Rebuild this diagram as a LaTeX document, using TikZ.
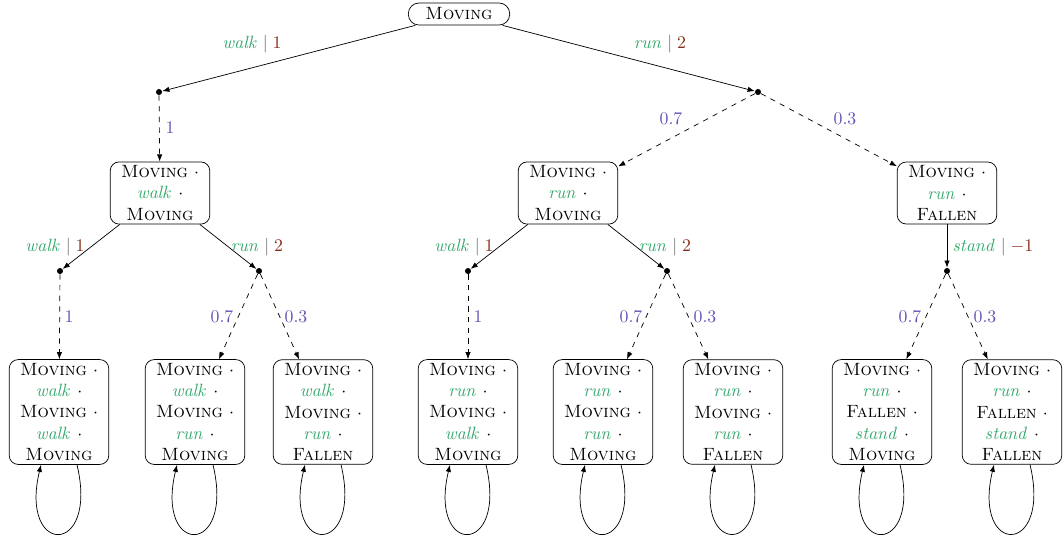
\documentclass[tikz,border=0pt]{standalone}
\usetikzlibrary{arrows.meta}
\definecolor{actc}{RGB}{52,168,108}
\definecolor{rewc}{RGB}{135,45,25}
\definecolor{prc}{RGB}{95,85,180}
\newcommand{\st}[1]{\textsc{#1}}
\newcommand{\ac}[1]{\textcolor{actc}{$\mathit{#1}$}}
\newcommand{\lab}[2]{\ac{#1}\;\textcolor{black!60}{$|$}\;\textcolor{rewc}{$#2$}}
\tikzset{
  state/.style={draw, rounded corners=5pt, align=center, minimum width=56pt, inner sep=2pt, font=\normalsize},
  rootstate/.style={draw, rounded corners=6pt, minimum width=57pt, minimum height=12.4pt, inner sep=1.5pt},
  chance/.style={circle, fill, inner sep=0pt, minimum size=3.4pt},
  act/.style={-{Latex[length=4pt,width=3pt]}},
  prob/.style={dashed, -{Latex[length=4pt,width=3pt]}},
  lbl/.style={inner sep=0pt},
  plbl/.style={inner sep=0pt, text=prc},
  loopc/.style={-{Latex[length=4pt,width=3pt]}}
}
\begin{document}
\begin{tikzpicture}[x=0.5625pt, y=-0.5625pt]
\useasboundingbox (0,0) rectangle (1063,542);
% root
\node[rootstate] (r) at (459,14) {\st{Moving}};
\node[chance] (d1) at (159,92) {};
\node[chance] (d2) at (758,92) {};
\draw[act] (r) -- (d1);
\draw[act] (r) -- (d2);
\node[lbl] (l1) at (252,44) {\lab{walk}{1}};
\node[lbl] (l2) at (660,44) {\lab{run}{2}};
% level 2
\node[state] (A) at (160,193) {\st{Moving} $\cdot$\\ \ac{walk} $\cdot$\\ \st{Moving}};
\node[state] (B) at (568,193) {\st{Moving} $\cdot$\\ \ac{run} $\cdot$\\ \st{Moving}};
\node[state] (C) at (947,193) {\st{Moving} $\cdot$\\ \ac{run} $\cdot$\\ \st{Fallen}};
\draw[prob] (d1) -- (A);
\draw[prob] (d2) -- (B);
\draw[prob] (d2) -- (C);
\node[plbl] (p1) at (170,128) {$1$};
\node[plbl] (p2) at (671,119) {$0.7$};
\node[plbl] (p3) at (845,119) {$0.3$};
% level 3 chance
\node[chance] (e1) at (60,271) {};
\node[chance] (e2) at (259,271) {};
\node[chance] (e3) at (468,271) {};
\node[chance] (e4) at (667,271) {};
\node[chance] (e5) at (947,271) {};
\draw[act] (A) -- (e1);
\draw[act] (A) -- (e2);
\draw[act] (B) -- (e3);
\draw[act] (B) -- (e4);
\draw[act] (C) -- (e5);
\node[lbl] (m1) at (55,247) {\lab{walk}{1}};
\node[lbl] (m2) at (257,247) {\lab{run}{2}};
\node[lbl] (m3) at (464,247) {\lab{walk}{1}};
\node[lbl] (m4) at (665,247) {\lab{run}{2}};
\node[lbl] (m5) at (993,247) {\lab{stand}{-1}};
% level 4
\node[state] (b1) at (59,412) {\st{Moving} $\cdot$\\ \ac{walk} $\cdot$\\ \st{Moving} $\cdot$\\ \ac{walk} $\cdot$\\ \st{Moving}};
\node[state] (b2) at (195,412) {\st{Moving} $\cdot$\\ \ac{walk} $\cdot$\\ \st{Moving} $\cdot$\\ \ac{run} $\cdot$\\ \st{Moving}};
\node[state] (b3) at (323,412) {\st{Moving} $\cdot$\\ \ac{walk} $\cdot$\\ \st{Moving} $\cdot$\\ \ac{run} $\cdot$\\ \st{Fallen}};
\node[state] (b4) at (468,412) {\st{Moving} $\cdot$\\ \ac{run} $\cdot$\\ \st{Moving} $\cdot$\\ \ac{walk} $\cdot$\\ \st{Moving}};
\node[state] (b5) at (603,412) {\st{Moving} $\cdot$\\ \ac{run} $\cdot$\\ \st{Moving} $\cdot$\\ \ac{run} $\cdot$\\ \st{Moving}};
\node[state] (b6) at (733,412) {\st{Moving} $\cdot$\\ \ac{run} $\cdot$\\ \st{Moving} $\cdot$\\ \ac{run} $\cdot$\\ \st{Fallen}};
\node[state] (b7) at (882,412) {\st{Moving} $\cdot$\\ \ac{run} $\cdot$\\ \st{Fallen} $\cdot$\\ \ac{stand} $\cdot$\\ \st{Moving}};
\node[state] (b8) at (1012,412) {\st{Moving} $\cdot$\\ \ac{run} $\cdot$\\ \st{Fallen} $\cdot$\\ \ac{stand} $\cdot$\\ \st{Fallen}};
\draw[prob] (e1) -- (b1);
\draw[prob] (e2) -- (b2);
\draw[prob] (e2) -- (b3);
\draw[prob] (e3) -- (b4);
\draw[prob] (e4) -- (b5);
\draw[prob] (e4) -- (b6);
\draw[prob] (e5) -- (b7);
\draw[prob] (e5) -- (b8);
\node[plbl] (q1) at (69,317) {$1$};
\node[plbl] (q2) at (222,317) {$0.7$};
\node[plbl] (q3) at (296,317) {$0.3$};
\node[plbl] (q4) at (478,317) {$1$};
\node[plbl] (q5) at (631,317) {$0.7$};
\node[plbl] (q6) at (705,317) {$0.3$};
\node[plbl] (q7) at (910,317) {$0.7$};
\node[plbl] (q8) at (985,317) {$0.3$};
% self loops
\foreach \b in {b1,b2,b3,b4,b5,b6,b7,b8}{
  \draw[loopc] ([xshift=18*0.5625pt]\b.south) .. controls +(22,92) and +(-22,92) .. ([xshift=-18*0.5625pt]\b.south);
}
\end{tikzpicture}
\end{document}
